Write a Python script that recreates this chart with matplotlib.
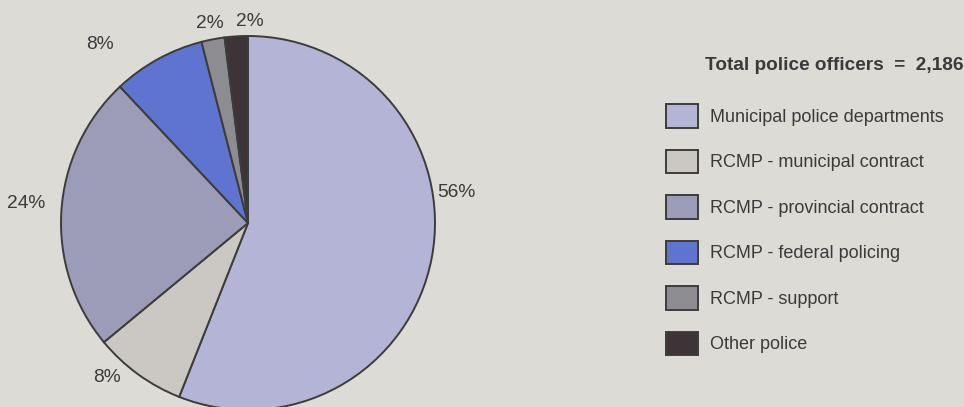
import numpy as np
import matplotlib
matplotlib.use('Agg')
import matplotlib.pyplot as plt

plt.rcParams['font.family'] = ['Liberation Sans', 'DejaVu Sans']

categories = [
    'Municipal police departments',
    'RCMP - municipal contract',
    'RCMP - provincial contract',
    'RCMP - federal policing',
    'RCMP - support',
    'Other police',
]
shares = [56, 8, 24, 8, 2, 2]
pct_labels = ['56%', '8%', '24%', '8%', '2%', '2%']
total_officers = '2,186'

colors = ['#b3b4d6', '#cbc8c4', '#9c9cb8', '#5f74cf', '#8d8c90', '#3e3438']
bg = '#dddbd6'
ink = '#3a3a3a'

fig = plt.figure(figsize=(9.64, 4.07), dpi=100, facecolor=bg)
ax = fig.add_axes([0, 0, 1, 1])
ax.set_facecolor(bg)

wedges, _ = ax.pie(
    shares,
    colors=colors,
    startangle=90,
    counterclock=False,
    center=(248, 184),
    radius=187,
    wedgeprops=dict(edgecolor='#3c3c3c', linewidth=1.4),
    frame=True,
)

# percentage labels placed around the rim (radius factor, angle nudge in deg)
label_pos = [(1.125, 19), (1.12, -6.3), (1.19, -1.4), (1.24, 11), (1.085, 0), (1.075, -4)]
for w, txt, (rf, da) in zip(wedges, pct_labels, label_pos):
    ang = np.deg2rad((w.theta1 + w.theta2) / 2 + da)
    x = w.center[0] + rf * w.r * np.cos(ang)
    y = w.center[1] + rf * w.r * np.sin(ang)
    ax.text(x, y, txt, ha='center', va='center', fontsize=13.8, color=ink)

ax.set_xlim(0, 964)
ax.set_ylim(0, 407)
ax.set_aspect('equal')
ax.axis('off')

fig.text(705 / 964, 1 - 65 / 407, f'Total police officers  =  {total_officers}',
         fontsize=13.7, fontweight='bold', color=ink, va='center', ha='left')

leg = ax.legend(
    wedges, categories,
    loc='upper left',
    bbox_to_anchor=(650 / 964, 1 - 88 / 407),
    frameon=False,
    fontsize=13,
    handlelength=1.75,
    handleheight=1.65,
    handletextpad=0.7,
    labelspacing=1.2,
    labelcolor=ink,
)

fig.savefig('out.png', dpi=100, facecolor=bg)
